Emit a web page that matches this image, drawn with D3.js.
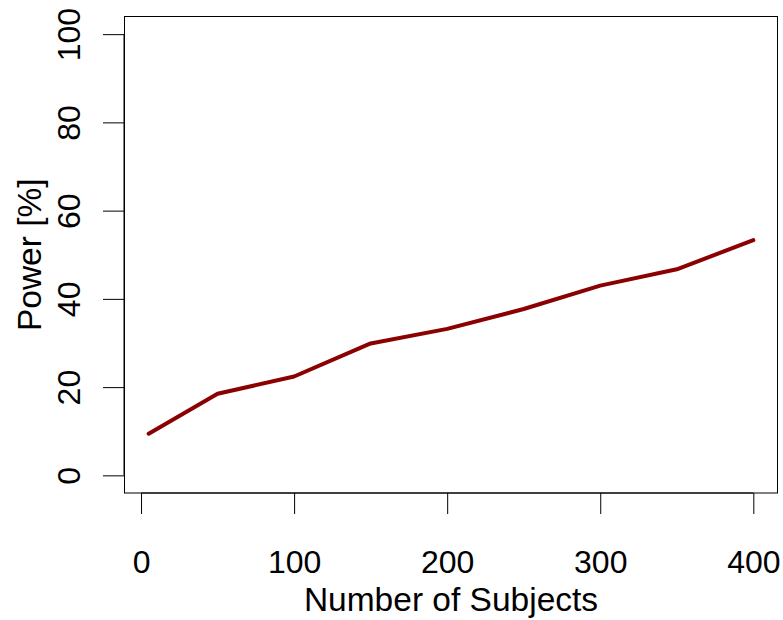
<!DOCTYPE html>
<html>
<head>
<meta charset="utf-8">
<script src="https://cdn.jsdelivr.net/npm/d3@7"></script>
<style>
  html, body { margin: 0; padding: 0; background: #fff; }
  svg { display: block; }
  text { font-family: "Liberation Sans", Arial, Helvetica, sans-serif; fill: #000; }
</style>
</head>
<body>
<svg id="chart" width="783" height="620"></svg>
<script>
const subjects = [5, 50, 100, 150, 200, 250, 300, 350, 400];
const power = [9.45, 18.5, 22.4, 29.9, 33.2, 37.7, 43.0, 46.7, 53.3];
const xTicks = [0, 100, 200, 300, 400];
const yTicks = [0, 20, 40, 60, 80, 100];
const xLabel = "Number of Subjects";
const yLabel = "Power [%]";

const svg = d3.select("#chart");
const pLeft = 124.5, pRight = 777.5, pTop = 16.5, pBottom = 493;
const tickFont = 32, titleFont = 33.5;

const x = d3.scaleLinear().domain([-10.8, 415.8]).range([pLeft, pRight]);
const y = d3.scaleLinear().domain([-4, 104]).range([pBottom, pTop]);

// box
svg.append("rect")
  .attr("x", pLeft).attr("y", pTop)
  .attr("width", pRight - pLeft).attr("height", pBottom - pTop)
  .attr("fill", "none").attr("stroke", "#000").attr("stroke-width", 1);

// x axis
const xAxis = d3.axisBottom(x).tickValues(xTicks).tickSize(21).tickPadding(0).tickFormat(d3.format("d"));
const gx = svg.append("g").attr("transform", `translate(0,${pBottom})`).call(xAxis);
gx.select(".domain").attr("d", `M${x(xTicks[0])},0H${x(xTicks[xTicks.length-1])}`).attr("stroke", "#000");
gx.selectAll(".tick line").attr("stroke", "#000");
gx.selectAll(".tick text")
  .attr("y", 80).attr("dy", null)
  .attr("font-size", tickFont)
  .style("font-family", '"Liberation Sans", Arial, sans-serif')
  .attr("fill", "#000");

// y axis
const yAxis = d3.axisLeft(y).tickValues(yTicks).tickSize(21).tickPadding(0).tickFormat(d3.format("d"));
const gy = svg.append("g").attr("transform", `translate(${pLeft - 0.5},0)`).call(yAxis);
gy.select(".domain").attr("d", `M0,${y(yTicks[0])}V${y(yTicks[yTicks.length-1])}`).attr("stroke", "#000");
gy.selectAll(".tick line").attr("stroke", "#000");
gy.selectAll(".tick text")
  .attr("x", null).attr("dy", null)
  .attr("text-anchor", "middle")
  .attr("transform", "translate(-44,0) rotate(-90)")
  .attr("font-size", tickFont)
  .style("font-family", '"Liberation Sans", Arial, sans-serif')
  .attr("fill", "#000");

// axis titles
svg.append("text")
  .attr("x", (pLeft + pRight) / 2).attr("y", 611)
  .attr("text-anchor", "middle")
  .attr("font-size", titleFont)
  .text(xLabel);

svg.append("text")
  .attr("transform", `translate(41,${(pTop + pBottom) / 2}) rotate(-90)`)
  .attr("text-anchor", "middle")
  .attr("font-size", titleFont)
  .text(yLabel);

// line
const line = d3.line().x((d, i) => x(subjects[i])).y(d => y(d));
svg.append("path")
  .datum(power)
  .attr("d", line)
  .attr("fill", "none")
  .attr("stroke", "#8B0000")
  .attr("stroke-width", 4)
  .attr("stroke-linejoin", "round")
  .attr("stroke-linecap", "round");
</script>
</body>
</html>
